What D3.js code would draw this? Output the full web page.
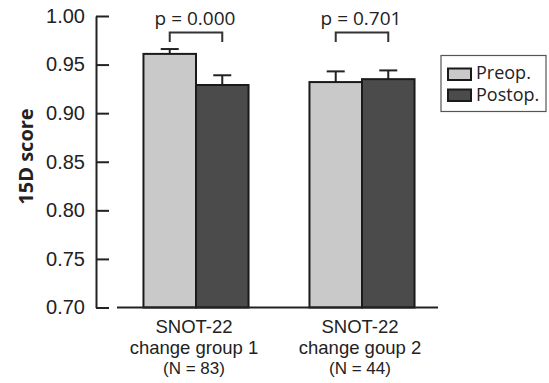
<!DOCTYPE html>
<html>
<head>
<meta charset="utf-8">
<script src="https://cdn.jsdelivr.net/npm/d3@7"></script>
<style>
  body { margin: 0; background: #fff; }
  svg { display: block; font-family: "Open Sans", sans-serif; }
  .axis text { font-size: 20px; fill: #222; }
  .xlab { font-family: "Liberation Sans", Arial, sans-serif; }
</style>
</head>
<body>
<div id="chart"></div>
<script>
// data
var groups = ["g1", "g2"];
var groupLines = [
  ["SNOT-22", "change group 1", "(N = 83)"],
  ["SNOT-22", "change goup 2", "(N = 44)"]
];
var seriesNames = ["Preop.", "Postop."];
var preop = [0.961, 0.932];
var postop = [0.929, 0.935];
var preopErr = [0.005, 0.011];
var postopErr = [0.010, 0.009];
var pValues = ["p = 0.000", "p = 0.701"];
var yTicks = [0.70, 0.75, 0.80, 0.85, 0.90, 0.95, 1.00];

var width = 549, height = 383;
var colors = ["#c9c9c9", "#4b4b4b"];

var svg = d3.select("#chart").append("svg")
  .attr("width", width)
  .attr("height", height);

// scales
var y = d3.scaleLinear()
  .domain([0.70, 1.00])
  .range([307.5, 16]);

var x0 = d3.scaleBand()
  .domain(groups)
  .range([113, 445])
  .paddingInner(0.367)
  .paddingOuter(0.1835);

var x1 = d3.scaleBand()
  .domain(seriesNames)
  .range([0, x0.bandwidth()]);

var rows = [];
groups.forEach(function(g, i) {
  rows.push({ g: g, s: seriesNames[0], v: preop[i], e: preopErr[i] });
  rows.push({ g: g, s: seriesNames[1], v: postop[i], e: postopErr[i] });
});

// y axis
var yAxis = svg.append("g")
  .attr("class", "axis")
  .attr("transform", "translate(96,0)")
  .call(d3.axisLeft(y)
    .tickValues(yTicks)
    .tickFormat(d3.format(".2f"))
    .tickSizeInner(-13)
    .tickSizeOuter(0)
    .tickPadding(11));
yAxis.selectAll("line, path")
  .attr("stroke", "#222")
  .attr("stroke-width", 2);

// y title
svg.append("text")
  .attr("transform", "translate(33," + 156.5 + ") rotate(-90)")
  .attr("text-anchor", "middle")
  .style("font-size", "20px")
  .style("font-weight", "bold")
  .attr("fill", "#222")
  .text("15D score");

// error bars (upper half only)
var err = svg.append("g");
rows.forEach(function(d) {
  var cx = x0(d.g) + x1(d.s) + x1.bandwidth() / 2;
  err.append("line")
    .attr("x1", cx).attr("x2", cx)
    .attr("y1", y(d.v)).attr("y2", y(d.v + d.e))
    .attr("stroke", "#222").attr("stroke-width", 2);
  err.append("line")
    .attr("x1", cx - 9).attr("x2", cx + 9)
    .attr("y1", y(d.v + d.e)).attr("y2", y(d.v + d.e))
    .attr("stroke", "#222").attr("stroke-width", 2);
});

// bars
svg.append("g")
  .selectAll("rect")
  .data(rows)
  .enter()
  .append("rect")
  .attr("x", function(d) { return x0(d.g) + x1(d.s); })
  .attr("y", function(d) { return y(d.v); })
  .attr("width", x1.bandwidth())
  .attr("height", function(d) { return y(0.70) - y(d.v); })
  .attr("fill", function(d, i) { return colors[i % 2]; })
  .attr("stroke", "#1a1a1a")
  .attr("stroke-width", 2);

// x axis baseline
svg.append("line")
  .attr("x1", 117).attr("x2", 438)
  .attr("y1", y(0.70)).attr("y2", y(0.70))
  .attr("stroke", "#222")
  .attr("stroke-width", 2);

// x labels, one text per line
var lineY = [333, 354, 374];
var lineSize = ["18.5px", "18.5px", "17px"];
groups.forEach(function(g, i) {
  var cx = x0(g) + x0.bandwidth() / 2 - 2;
  groupLines[i].forEach(function(s, k) {
    svg.append("text")
      .attr("class", "xlab")
      .attr("x", cx)
      .attr("y", lineY[k])
      .attr("text-anchor", "middle")
      .style("font-size", lineSize[k])
      .attr("fill", "#222")
      .text(s);
  });
});

// significance brackets
var bracketY = 32.5, legY = 42;
groups.forEach(function(g, i) {
  var a = x0(g) + x1(seriesNames[0]) + x1.bandwidth() / 2;
  var b = x0(g) + x1(seriesNames[1]) + x1.bandwidth() / 2;
  svg.append("path")
    .attr("d", "M" + a + "," + legY + "V" + bracketY + "H" + b + "V" + legY)
    .attr("fill", "none")
    .attr("stroke", "#333")
    .attr("stroke-width", 2);
  svg.append("text")
    .attr("x", (a + b) / 2 - 1)
    .attr("y", 25)
    .attr("text-anchor", "middle")
    .style("font-size", "19px")
    .attr("fill", "#222")
    .text(pValues[i]);
});

// legend
var legend = svg.append("g");
legend.append("rect")
  .attr("x", 441).attr("y", 55.5)
  .attr("width", 105).attr("height", 56)
  .attr("fill", "#fff")
  .attr("stroke", "#555")
  .attr("stroke-width", 1.2);
seriesNames.forEach(function(s, i) {
  legend.append("rect")
    .attr("x", 448).attr("y", 68.5 + i * 21)
    .attr("width", 23).attr("height", 11.5)
    .attr("fill", colors[i])
    .attr("stroke", "#1a1a1a")
    .attr("stroke-width", 2);
  legend.append("text")
    .attr("x", 476)
    .attr("y", 79 + i * 22)
    .style("font-size", "18px")
    .attr("fill", "#222")
    .text(s);
});
</script>
</body>
</html>
